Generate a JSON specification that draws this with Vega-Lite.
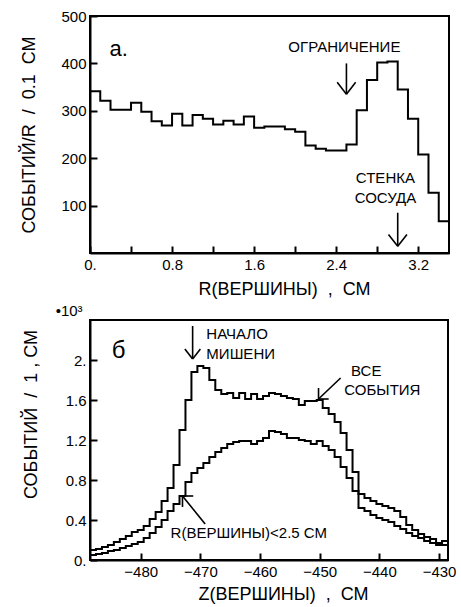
{
  "$schema": "https://vega.github.io/schema/vega-lite/v6.json",
  "padding": {"left": 18, "top": 8, "right": 0, "bottom": 0},
  "background": "white",
  "spacing": 3,
  "config": {
    "view": {"stroke": "black", "strokeWidth": 2},
    "axis": {
      "domainColor": "black", "domainWidth": 2, "tickColor": "black", "tickWidth": 2,
      "tickSize": -7, "labelPadding": 11, "labelFlush": false,
      "labelFont": "Liberation Sans", "labelFontSize": 15, "labelColor": "black",
      "titleFont": "Liberation Sans", "titleFontSize": 18, "titleFontWeight": "normal", "titleColor": "black",
      "grid": false
    },
    "text": {"font": "Liberation Sans", "color": "black"}
  },
  "datasets": {
    "rhist": [
      {"R": 0.0, "n": 341}, {"R": 0.1, "n": 321}, {"R": 0.2, "n": 302}, {"R": 0.3, "n": 302},
      {"R": 0.4, "n": 317}, {"R": 0.5, "n": 298}, {"R": 0.6, "n": 278}, {"R": 0.7, "n": 269},
      {"R": 0.8, "n": 294}, {"R": 0.9, "n": 269}, {"R": 1.0, "n": 291}, {"R": 1.1, "n": 283},
      {"R": 1.2, "n": 271}, {"R": 1.3, "n": 279}, {"R": 1.4, "n": 271}, {"R": 1.5, "n": 288},
      {"R": 1.6, "n": 264}, {"R": 1.7, "n": 267}, {"R": 1.8, "n": 267}, {"R": 1.9, "n": 261},
      {"R": 2.0, "n": 256}, {"R": 2.1, "n": 227}, {"R": 2.2, "n": 220}, {"R": 2.3, "n": 216},
      {"R": 2.4, "n": 216}, {"R": 2.5, "n": 229}, {"R": 2.6, "n": 301}, {"R": 2.7, "n": 365},
      {"R": 2.8, "n": 402}, {"R": 2.9, "n": 404}, {"R": 3.0, "n": 345}, {"R": 3.1, "n": 283},
      {"R": 3.2, "n": 208}, {"R": 3.3, "n": 127}, {"R": 3.4, "n": 67}, {"R": 3.5, "n": 67}
    ],
    "rarrows": [
      {"R": 2.5, "n": 400, "R2": 2.5, "n2": 335},
      {"R": 2.5, "n": 335, "R2": 2.41, "n2": 360},
      {"R": 2.5, "n": 335, "R2": 2.59, "n2": 360},
      {"R": 3.0, "n": 85, "R2": 3.0, "n2": 14},
      {"R": 3.0, "n": 14, "R2": 2.91, "n2": 39},
      {"R": 3.0, "n": 14, "R2": 3.09, "n2": 39}
    ],
    "rtext": [
      {"R": 2.48, "n": 434, "label": "ОГРАНИЧЕНИЕ"},
      {"R": 2.88, "n": 159, "label": "СТЕНКА"},
      {"R": 2.88, "n": 117, "label": "СОСУДА"}
    ],
    "rletter": [{"R": 0.28, "n": 430, "label": "а."}],
    "zhist": [
      {"Z": -488.5, "v": 0.10, "s": "all"}, {"Z": -487.5, "v": 0.11, "s": "all"}, {"Z": -486.5, "v": 0.13, "s": "all"},
      {"Z": -485.5, "v": 0.15, "s": "all"}, {"Z": -484.5, "v": 0.18, "s": "all"}, {"Z": -483.5, "v": 0.21, "s": "all"},
      {"Z": -482.5, "v": 0.24, "s": "all"}, {"Z": -481.5, "v": 0.28, "s": "all"}, {"Z": -480.5, "v": 0.30, "s": "all"},
      {"Z": -479.5, "v": 0.34, "s": "all"}, {"Z": -478.5, "v": 0.41, "s": "all"}, {"Z": -477.5, "v": 0.48, "s": "all"},
      {"Z": -476.5, "v": 0.59, "s": "all"}, {"Z": -475.5, "v": 0.72, "s": "all"}, {"Z": -474.5, "v": 0.95, "s": "all"},
      {"Z": -473.5, "v": 1.30, "s": "all"}, {"Z": -472.5, "v": 1.60, "s": "all"}, {"Z": -471.5, "v": 1.88, "s": "all"},
      {"Z": -470.5, "v": 1.94, "s": "all"}, {"Z": -469.5, "v": 1.92, "s": "all"}, {"Z": -468.5, "v": 1.80, "s": "all"},
      {"Z": -467.5, "v": 1.70, "s": "all"}, {"Z": -466.5, "v": 1.66, "s": "all"}, {"Z": -465.5, "v": 1.67, "s": "all"},
      {"Z": -464.5, "v": 1.62, "s": "all"}, {"Z": -463.5, "v": 1.67, "s": "all"}, {"Z": -462.5, "v": 1.61, "s": "all"},
      {"Z": -461.5, "v": 1.66, "s": "all"}, {"Z": -460.5, "v": 1.61, "s": "all"}, {"Z": -459.5, "v": 1.64, "s": "all"},
      {"Z": -458.5, "v": 1.67, "s": "all"}, {"Z": -457.5, "v": 1.66, "s": "all"}, {"Z": -456.5, "v": 1.64, "s": "all"},
      {"Z": -455.5, "v": 1.62, "s": "all"}, {"Z": -454.5, "v": 1.61, "s": "all"}, {"Z": -453.5, "v": 1.55, "s": "all"},
      {"Z": -452.5, "v": 1.59, "s": "all"}, {"Z": -451.5, "v": 1.59, "s": "all"}, {"Z": -450.5, "v": 1.60, "s": "all"},
      {"Z": -449.5, "v": 1.52, "s": "all"}, {"Z": -448.5, "v": 1.46, "s": "all"}, {"Z": -447.5, "v": 1.38, "s": "all"},
      {"Z": -446.5, "v": 1.27, "s": "all"}, {"Z": -445.5, "v": 1.10, "s": "all"}, {"Z": -444.5, "v": 0.88, "s": "all"},
      {"Z": -443.5, "v": 0.66, "s": "all"}, {"Z": -442.5, "v": 0.62, "s": "all"}, {"Z": -441.5, "v": 0.59, "s": "all"},
      {"Z": -440.5, "v": 0.56, "s": "all"}, {"Z": -439.5, "v": 0.54, "s": "all"}, {"Z": -438.5, "v": 0.52, "s": "all"},
      {"Z": -437.5, "v": 0.49, "s": "all"}, {"Z": -436.5, "v": 0.43, "s": "all"}, {"Z": -435.5, "v": 0.35, "s": "all"},
      {"Z": -434.5, "v": 0.30, "s": "all"}, {"Z": -433.5, "v": 0.26, "s": "all"}, {"Z": -432.5, "v": 0.23, "s": "all"},
      {"Z": -431.5, "v": 0.21, "s": "all"}, {"Z": -430.5, "v": 0.17, "s": "all"}, {"Z": -429.5, "v": 0.19, "s": "all"},
      {"Z": -428.5, "v": 0.19, "s": "all"},
      {"Z": -488.5, "v": 0.05, "s": "r25"}, {"Z": -487.5, "v": 0.06, "s": "r25"}, {"Z": -486.5, "v": 0.07, "s": "r25"},
      {"Z": -485.5, "v": 0.09, "s": "r25"}, {"Z": -484.5, "v": 0.10, "s": "r25"}, {"Z": -483.5, "v": 0.12, "s": "r25"},
      {"Z": -482.5, "v": 0.14, "s": "r25"}, {"Z": -481.5, "v": 0.16, "s": "r25"}, {"Z": -480.5, "v": 0.18, "s": "r25"},
      {"Z": -479.5, "v": 0.22, "s": "r25"}, {"Z": -478.5, "v": 0.27, "s": "r25"}, {"Z": -477.5, "v": 0.33, "s": "r25"},
      {"Z": -476.5, "v": 0.40, "s": "r25"}, {"Z": -475.5, "v": 0.49, "s": "r25"}, {"Z": -474.5, "v": 0.56, "s": "r25"},
      {"Z": -473.5, "v": 0.64, "s": "r25"}, {"Z": -472.5, "v": 0.78, "s": "r25"}, {"Z": -471.5, "v": 0.87, "s": "r25"},
      {"Z": -470.5, "v": 0.92, "s": "r25"}, {"Z": -469.5, "v": 0.97, "s": "r25"}, {"Z": -468.5, "v": 1.03, "s": "r25"},
      {"Z": -467.5, "v": 1.08, "s": "r25"}, {"Z": -466.5, "v": 1.12, "s": "r25"}, {"Z": -465.5, "v": 1.16, "s": "r25"},
      {"Z": -464.5, "v": 1.18, "s": "r25"}, {"Z": -463.5, "v": 1.19, "s": "r25"}, {"Z": -462.5, "v": 1.19, "s": "r25"},
      {"Z": -461.5, "v": 1.16, "s": "r25"}, {"Z": -460.5, "v": 1.19, "s": "r25"}, {"Z": -459.5, "v": 1.22, "s": "r25"},
      {"Z": -458.5, "v": 1.29, "s": "r25"}, {"Z": -457.5, "v": 1.28, "s": "r25"}, {"Z": -456.5, "v": 1.26, "s": "r25"},
      {"Z": -455.5, "v": 1.22, "s": "r25"}, {"Z": -454.5, "v": 1.22, "s": "r25"}, {"Z": -453.5, "v": 1.20, "s": "r25"},
      {"Z": -452.5, "v": 1.19, "s": "r25"}, {"Z": -451.5, "v": 1.16, "s": "r25"}, {"Z": -450.5, "v": 1.19, "s": "r25"},
      {"Z": -449.5, "v": 1.14, "s": "r25"}, {"Z": -448.5, "v": 1.10, "s": "r25"}, {"Z": -447.5, "v": 1.03, "s": "r25"},
      {"Z": -446.5, "v": 0.93, "s": "r25"}, {"Z": -445.5, "v": 0.82, "s": "r25"}, {"Z": -444.5, "v": 0.69, "s": "r25"},
      {"Z": -443.5, "v": 0.52, "s": "r25"}, {"Z": -442.5, "v": 0.49, "s": "r25"}, {"Z": -441.5, "v": 0.45, "s": "r25"},
      {"Z": -440.5, "v": 0.42, "s": "r25"}, {"Z": -439.5, "v": 0.40, "s": "r25"}, {"Z": -438.5, "v": 0.38, "s": "r25"},
      {"Z": -437.5, "v": 0.34, "s": "r25"}, {"Z": -436.5, "v": 0.31, "s": "r25"}, {"Z": -435.5, "v": 0.27, "s": "r25"},
      {"Z": -434.5, "v": 0.24, "s": "r25"}, {"Z": -433.5, "v": 0.22, "s": "r25"}, {"Z": -432.5, "v": 0.19, "s": "r25"},
      {"Z": -431.5, "v": 0.17, "s": "r25"}, {"Z": -430.5, "v": 0.15, "s": "r25"}, {"Z": -429.5, "v": 0.15, "s": "r25"},
      {"Z": -428.5, "v": 0.15, "s": "r25"}
    ],
    "zarrows": [
      {"Z": -471.3, "v": 2.34, "Z2": -471.3, "v2": 2.01},
      {"Z": -471.3, "v": 2.01, "Z2": -472.6, "v2": 2.11},
      {"Z": -471.3, "v": 2.01, "Z2": -470.0, "v2": 2.11},
      {"Z": -446.5, "v": 1.82, "Z2": -450.2, "v2": 1.61},
      {"Z": -450.2, "v": 1.61, "Z2": -450.2, "v2": 1.72},
      {"Z": -450.2, "v": 1.61, "Z2": -448.5, "v2": 1.61},
      {"Z": -469.2, "v": 0.36, "Z2": -473.0, "v2": 0.64},
      {"Z": -473.0, "v": 0.64, "Z2": -471.2, "v2": 0.64},
      {"Z": -473.0, "v": 0.64, "Z2": -473.0, "v2": 0.53}
    ],
    "ztextleft": [
      {"Z": -469.0, "v": 2.26, "label": "НАЧАЛО"},
      {"Z": -469.0, "v": 2.06, "label": "МИШЕНИ"},
      {"Z": -475.0, "v": 0.27, "label": "R(ВЕРШИНЫ)<2.5 СМ"}
    ],
    "ztextcenter": [
      {"Z": -442.2, "v": 1.89, "label": "ВСЕ"},
      {"Z": -439.5, "v": 1.70, "label": "СОБЫТИЯ"},
      {"Z": -492.0, "v": 2.49, "label": "•10³"}
    ],
    "zletter": [{"Z": -483.7, "v": 2.09, "label": "б"}]
  },
  "vconcat": [
    {
      "width": 359,
      "height": 237,
      "encoding": {
        "x": {"field": "R", "type": "quantitative",
              "scale": {"domain": [0, 3.5], "nice": false, "zero": false},
              "axis": {"title": "R(ВЕРШИНЫ)\u00a0\u00a0,\u00a0\u00a0СМ", "values": [0, 0.4, 0.8, 1.2, 1.6, 2.0, 2.4, 2.8, 3.2],
                       "labelExpr": "datum.value == 0 ? '0.' : (round(datum.value*10) % 8 == 0 ? format(datum.value, '.1f') : '')",
                       "titleX": 194, "titlePadding": 8}},
        "y": {"field": "n", "type": "quantitative",
              "scale": {"domain": [0, 500], "nice": false},
              "axis": {"title": "СОБЫТИЙ/R\u00a0\u00a0/\u00a0\u00a00.1\u00a0\u00a0СМ", "values": [100, 200, 300, 400, 500],
                       "titleX": -61, "titleBaseline": "middle"}}
      },
      "layer": [
        {
          "data": {"name": "rhist"},
          "mark": {"type": "line", "interpolate": "step-after", "color": "black", "strokeWidth": 2}
        },
        {
          "data": {"name": "rarrows"},
          "mark": {"type": "rule", "color": "black", "strokeWidth": 1.6},
          "encoding": {"x2": {"field": "R2"}, "y2": {"field": "n2"}}
        },
        {
          "data": {"name": "rtext"},
          "mark": {"type": "text", "fontSize": 15, "align": "center", "baseline": "middle"},
          "encoding": {"text": {"field": "label"}}
        },
        {
          "data": {"name": "rletter"},
          "mark": {"type": "text", "fontSize": 22, "align": "center", "baseline": "middle"},
          "encoding": {"text": {"field": "label"}}
        }
      ]
    },
    {
      "width": 358,
      "height": 240,
      "encoding": {
        "x": {"field": "Z", "type": "quantitative",
              "scale": {"domain": [-488.5, -428.5], "nice": false, "zero": false},
              "axis": {"title": "Z(ВЕРШИНЫ)\u00a0\u00a0,\u00a0\u00a0СМ", "values": [-480, -470, -460, -450, -440, -430],
                       "titleX": 193, "titlePadding": 6}},
        "y": {"field": "v", "type": "quantitative",
              "scale": {"domain": [0, 2.4], "nice": false},
              "axis": {"title": "СОБЫТИЙ\u00a0\u00a0/\u00a0\u00a01\u00a0,\u00a0СМ", "values": [0, 0.4, 0.8, 1.2, 1.6, 2.0],
                       "labelExpr": "datum.value == 0 ? '0.' : (datum.value == 2 ? '2.' : format(datum.value, '.1f'))",
                       "titleX": -59, "titleY": 94, "titleBaseline": "middle"}}
      },
      "layer": [
        {
          "data": {"name": "zhist"},
          "mark": {"type": "line", "interpolate": "step-after", "color": "black", "strokeWidth": 2},
          "encoding": {"detail": {"field": "s", "type": "nominal"}}
        },
        {
          "data": {"name": "zarrows"},
          "mark": {"type": "rule", "color": "black", "strokeWidth": 1.6},
          "encoding": {"x2": {"field": "Z2"}, "y2": {"field": "v2"}}
        },
        {
          "data": {"name": "ztextleft"},
          "mark": {"type": "text", "fontSize": 15, "align": "left", "baseline": "middle"},
          "encoding": {"text": {"field": "label"}}
        },
        {
          "data": {"name": "ztextcenter"},
          "mark": {"type": "text", "fontSize": 15, "align": "center", "baseline": "middle"},
          "encoding": {"text": {"field": "label"}}
        },
        {
          "data": {"name": "zletter"},
          "mark": {"type": "text", "fontSize": 24, "align": "center", "baseline": "middle"},
          "encoding": {"text": {"field": "label"}}
        }
      ]
    }
  ]
}
